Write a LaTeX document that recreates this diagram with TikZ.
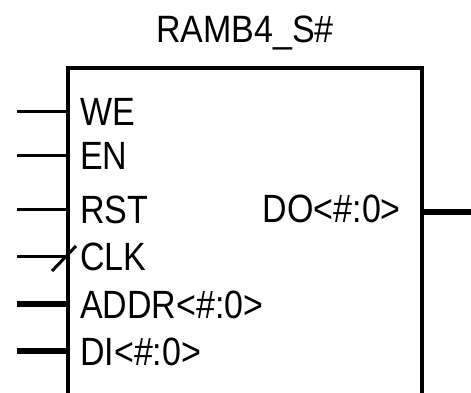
\documentclass[tikz,border=0pt]{standalone}
\usepackage{fontspec}
\setmainfont{Liberation Sans}
\usepackage{tikz}
\usetikzlibrary{calc}

\begin{document}
\begin{tikzpicture}[x=1pt,y=1pt]
\tikzset{portname/.style = {anchor=base west,inner sep=0pt,font=\fontsize{34}{40}\selectfont}}
\tikzset{wire/.style = {line width=3pt}}
\tikzset{bus/.style = {line width=5.5pt}}
\useasboundingbox (0,0) rectangle (471,392);

%block
\node[draw,line width=3.5pt,minimum width=354pt,minimum height=334pt,inner sep=0pt] (box) at (245,157) {};
\node[inner sep=0pt,font=\fontsize{34}{40}\selectfont] (title) at (245,359) {\scalebox{1}[1.12]{RAMB4\_S\#}};

%ports
\node[portname] (we) at (80,267) {\scalebox{1}[1.16]{WE}};
\node[portname] (en) at (80,223) {\scalebox{1}[1.16]{EN}};
\node[portname] (rst) at (80,169) {\scalebox{1}[1.16]{RST}};
\node[portname] (clk) at (80,122) {\scalebox{1}[1.16]{CLK}};
\node[portname] (addr) at (80,74) {\scalebox{1}[1.16]{ADDR<\#:0>}};
\node[portname] (di) at (80,27) {\scalebox{1}[1.16]{DI<\#:0>}};
\node[portname,anchor=base east] (do) at (401,170) {\scalebox{1}[1.16]{DO<\#:0>}};

\coordinate (we-in) at (17,281);
\coordinate (en-in) at (17,237);
\coordinate (rst-in) at (17,183);
\coordinate (clk-in) at (17,136);
\coordinate (addr-in) at (17,88);
\coordinate (di-in) at (17,41);
\coordinate (do-out) at (471,180);

%wires
\draw[wire] (we-in) -- (we-in -| box.west);
\draw[wire] (en-in) -- (en-in -| box.west);
\draw[wire] (rst-in) -- (rst-in -| box.west);
\draw[wire] (clk-in) -- (clk-in -| box.west);
\draw[wire] ([shift={(35,-15)}]clk-in) -- ([shift={(59,10)}]clk-in);
\draw[bus] (addr-in) -- (addr-in -| box.west);
\draw[bus] (di-in) -- (di-in -| box.west);
\draw[bus] (do-out -| box.east) -- (do-out);

\end{tikzpicture}
\end{document}
